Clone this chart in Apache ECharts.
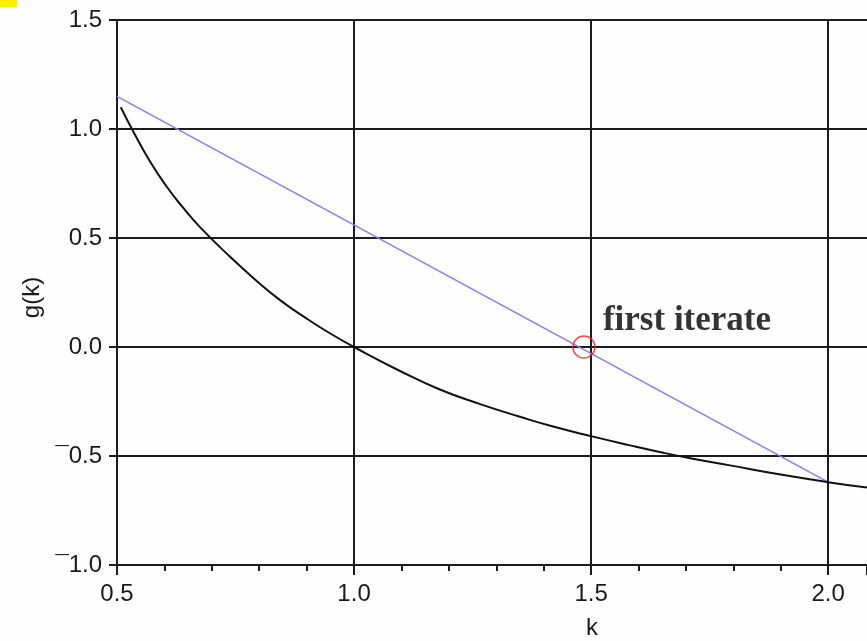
<!DOCTYPE html>
<html>
<head>
<meta charset="utf-8">
<script src="https://cdn.jsdelivr.net/npm/echarts@6/dist/echarts.min.js"></script>
<style>
html,body{margin:0;padding:0;background:#fefefe;}
#chart{width:867px;height:641px;}
</style>
</head>
<body>
<div id="chart"></div>
<script>
// Data
var curveK = [0.508, 0.534, 0.570, 0.605, 0.639, 0.675, 0.738, 0.791, 0.844, 0.897, 0.949, 1.000, 1.097, 1.181, 1.266, 1.350, 1.420, 1.502, 1.580, 1.652, 1.709, 1.793, 1.900, 2.000, 2.082];
var curveG = [1.10, 0.99, 0.85, 0.735, 0.64, 0.55, 0.415, 0.31, 0.215, 0.135, 0.063, 0.00, -0.11, -0.195, -0.262, -0.32, -0.365, -0.41, -0.45, -0.485, -0.51, -0.543, -0.585, -0.62, -0.645];
var secantK = [0.5, 2.0];
var secantG = [1.15, -0.62];
var iterateK = [1.485];
var iterateG = [0.0];
var annotationText = ["first iterate"];
var annotationK = [1.525];
var annotationG = [0.12];
var xTicks = [0.5, 1.0, 1.5, 2.0];
var yTicks = [-1.0, -0.5, 0.0, 0.5, 1.0, 1.5];
var xAxisName = "k";
var yAxisName = "g(k)";

function zip(a, b) { return a.map(function (v, i) { return [v, b[i]]; }); }

var chart = echarts.init(document.getElementById('chart'), null, {renderer: 'canvas'});
var dark = '#1c1c1c';
var labelFont = {fontFamily: 'Liberation Sans', fontSize: 24, color: '#1a1a1a'};

function fmt(v) {
  var s = Math.abs(v).toFixed(1);
  return v < -1e-9 ? '\u00AF' + s : s;
}
function isTick(list, v) {
  return list.some(function (t) { return Math.abs(t - v) < 1e-6; });
}

chart.setOption({
  animation: false,
  backgroundColor: '#fefefe',
  graphic: [{
    type: 'rect', left: 0, top: 0,
    shape: {width: 17, height: 7},
    style: {fill: '#ffee00'}
  }],
  grid: {left: 117, right: 0, top: 20, bottom: 76, containLabel: false, outerBoundsMode: 'none'},
  xAxis: {
    type: 'value', min: 0.5, max: 2.082, interval: 0.5,
    name: xAxisName, nameLocation: 'middle', nameGap: 51,
    nameTextStyle: Object.assign({}, labelFont, {padding: [0, 0, 0, 200]}),
    axisLine: {show: true, onZero: false, lineStyle: {color: dark, width: 2}},
    axisTick: {show: true, length: 10, lineStyle: {color: dark, width: 2}},
    minorTick: {show: true, splitNumber: 5, length: 6, lineStyle: {color: dark, width: 2}},
    axisLabel: Object.assign({}, labelFont, {margin: 17, showMaxLabel: false,
      formatter: function (v) { return isTick(xTicks, v) ? fmt(v) : ''; }}),
    splitLine: {show: true, showMaxLine: false, lineStyle: {color: dark, width: 2}}
  },
  yAxis: {
    type: 'value', min: -1.0, max: 1.5, interval: 0.5,
    name: yAxisName, nameLocation: 'middle', nameGap: 70, nameRotate: 90,
    nameTextStyle: Object.assign({}, labelFont, {padding: [0, 10, 0, 0]}),
    axisLine: {show: true, onZero: false, lineStyle: {color: dark, width: 2}},
    axisTick: {show: true, length: 8, lineStyle: {color: dark, width: 2}},
    axisLabel: Object.assign({}, labelFont, {margin: 15,
      formatter: function (v) { return isTick(yTicks, v) ? fmt(v) : ''; }}),
    splitLine: {show: true, lineStyle: {color: dark, width: 2}}
  },
  series: [
    {
      type: 'line', data: zip(secantK, secantG), symbol: 'none',
      lineStyle: {color: '#7f7fff', width: 1.5}, z: 3
    },
    {
      type: 'line', data: zip(curveK, curveG), symbol: 'none', smooth: 0.5,
      lineStyle: {color: '#111', width: 2}, z: 4
    },
    {
      type: 'scatter', data: zip(iterateK, iterateG), symbol: 'circle', symbolSize: 22,
      itemStyle: {color: 'rgba(0,0,0,0)', borderColor: '#ff1a1a', borderWidth: 1.5}, z: 5
    },
    {
      type: 'scatter', data: zip(annotationK, annotationG), symbolSize: 0,
      label: {
        show: true, position: 'right', distance: 0,
        formatter: function (p) { return annotationText[p.dataIndex]; },
        fontFamily: 'Liberation Serif', fontWeight: 'bold', fontSize: 35, color: '#000'
      }, z: 6
    }
  ]
});
</script>
</body>
</html>
